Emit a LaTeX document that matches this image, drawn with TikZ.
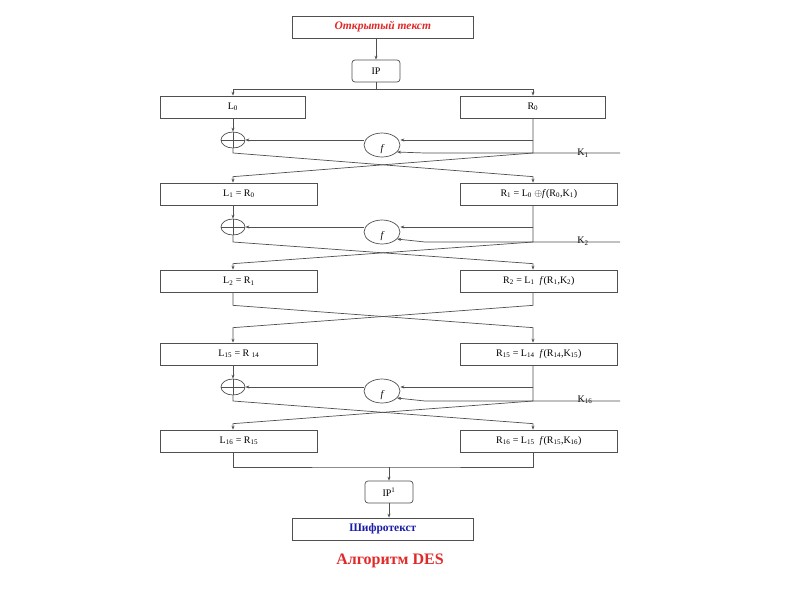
\documentclass[tikz,border=0pt]{standalone}
\usepackage{fontspec}
\setmainfont{Liberation Serif}
\usetikzlibrary{shapes.geometric, arrows.meta, calc}
\definecolor{desline}{HTML}{505050}
\definecolor{desred}{HTML}{E02A2A}
\definecolor{desblue}{HTML}{1C1CA8}
\tikzset{
    blk/.style={rectangle, draw=desline, line width=0.7pt, fill=white, minimum width=145pt, minimum height=22pt, inner sep=1pt, anchor=west, font=\fontsize{10}{12}\selectfont},
    wideblk/.style={blk, minimum width=157pt},
    endblk/.style={blk, minimum width=181pt, font=\fontsize{11.5}{13}\selectfont\bfseries},
    ipblk/.style={rectangle, draw=desline, line width=0.7pt, fill=white, minimum width=48pt, minimum height=22pt, inner sep=1pt, rounded corners=3pt, font=\fontsize{10}{12}\selectfont},
    xorop/.style={ellipse, draw=desline, line width=0.7pt, minimum width=24pt, minimum height=16pt, inner sep=0pt},
    fop/.style={ellipse, draw=desline, line width=0.7pt, minimum width=36pt, minimum height=24pt, inner sep=0pt, font=\fontsize{10}{12}\selectfont\itshape},
    klab/.style={font=\fontsize{10}{12}\selectfont, inner sep=0pt},
    arr/.style={-{Stealth[length=4pt, width=3pt]}, draw=desline, line width=0.7pt},
    ln/.style={draw=desline, line width=0.7pt},
}

\begin{document}
\begin{tikzpicture}[x=1pt, y=-1pt]
\useasboundingbox (0,0) rectangle (800,600);

% ── columns ──
\coordinate (lcol) at (233,0);
\coordinate (rcol) at (533,0);

% ── input / IP ──
\node[endblk, text=desred, font=\fontsize{11.5}{13}\selectfont\bfseries\itshape] (pt) at (292,27) {Открытый текст};
\node[ipblk] (ip) at (376,71) {IP};
\coordinate (split) at (376,89);

% ── blocks ──
\node[blk] (L0) at (160,107) {L\textsubscript{0}};
\node[blk] (R0) at (460,107) {R\textsubscript{0}};
\node[wideblk] (L1) at (160,194) {L\textsubscript{1} = R\textsubscript{0}};
\node[wideblk] (R1) at (460,194) {R\textsubscript{1} = L\textsubscript{0} $\oplus$\textit{f}(R\textsubscript{0},K\textsubscript{1})};
\node[wideblk] (L2) at (160,281) {L\textsubscript{2} = R\textsubscript{1}};
\node[wideblk] (R2) at (460,281) {R\textsubscript{2} = L\textsubscript{1}\enspace\textit{f}(R\textsubscript{1},K\textsubscript{2})};
\node[wideblk] (L15) at (160,354) {L\textsubscript{15} = R \textsubscript{14}};
\node[wideblk] (R15) at (460,354) {R\textsubscript{15} = L\textsubscript{14}\enspace\textit{f}(R\textsubscript{14},K\textsubscript{15})};
\node[wideblk] (L16) at (160,441) {L\textsubscript{16} = R\textsubscript{15}};
\node[wideblk] (R16) at (460,441) {R\textsubscript{16} = L\textsubscript{15}\enspace\textit{f}(R\textsubscript{15},K\textsubscript{16})};

% ── round operators ──
\node[xorop] (xor1) at (233,140) {};
\node[fop] (f1) at (382,145) {\raisebox{-6pt}[0pt][0pt]{f}};
\coordinate (k1) at (620,153);
\node[xorop] (xor2) at (233,227) {};
\node[fop] (f2) at (382,232) {\raisebox{-6pt}[0pt][0pt]{f}};
\coordinate (k2) at (620,242);
\node[xorop] (xor3) at (233,387) {};
\node[fop] (f3) at (382,391) {\raisebox{-6pt}[0pt][0pt]{f}};
\coordinate (k3) at (620,401);

\node[klab] (lk1) at (583,153) {K\textsubscript{1}};
\node[klab] (lk2) at (583,241) {K\textsubscript{2}};
\node[klab] (lk3) at (585,400) {K\textsubscript{16}};

% ── output ──
\coordinate (join) at (389,467);
\node[ipblk] (ipinv) at (389,492) {IP\textsuperscript{1}};
\node[endblk, text=desblue] (ct) at (292,529) {Шифротекст};
\node[font=\fontsize{16}{18}\selectfont\bfseries, text=desred] (title) at (390,561) {Алгоритм DES};

% ── top connectors ──
\draw[arr] (pt.south -| ip) -- (ip.north);
\draw[ln] (ip.south) -- (split);
\draw[arr] (split) -| (L0.north -| lcol);
\draw[arr] (split) -| (R0.north -| rcol);

% ── Feistel rounds ──
\foreach \xo/\fo/\ko/\lu/\ru/\lnext/\rnext in {xor1/f1/k1/L0/R0/L1/R1, xor2/f2/k2/L1/R1/L2/R2, xor3/f3/k3/L15/R15/L16/R16} {
    \draw[arr] (\lu.south -| lcol) -- (\xo.north);
    \draw[ln] (\xo.north) -- (\xo.south) (\xo.west) -- (\xo.east);
    \draw[arr] (rcol |- \xo) -- (\fo.east |- \xo);
    \draw[arr] (\fo.west |- \xo) -- (\xo.east);
    \draw[arr] (\ko) -- ++(-195,0) -- (\fo.-25);
    \draw[arr] (\ru.south -| rcol) -- (rcol |- \ko) -- ($(\lnext.north -| lcol)+(0,-6)$) -- (\lnext.north -| lcol);
    \draw[arr] (\xo.south) -- (\xo.south |- \ko) -- ($(\rnext.north -| rcol)+(0,-6)$) -- (\rnext.north -| rcol);
}

% ── skipped rounds ──
\draw[arr] (L2.south -| lcol) -- ++(0,13) -- ($(R15.north -| rcol)+(0,-15)$) -- (R15.north -| rcol);
\draw[arr] (R2.south -| rcol) -- ++(0,13) -- ($(L15.north -| lcol)+(0,-15)$) -- (L15.north -| lcol);

% ── bottom connectors ──
\draw[ln] (L16.south -| lcol) |- (join) -| (R16.south -| rcol);
\draw[arr] (join) -- (ipinv.north);
\draw[arr] (ipinv.south) -- (ct.north -| ipinv);

\end{tikzpicture}
\end{document}
